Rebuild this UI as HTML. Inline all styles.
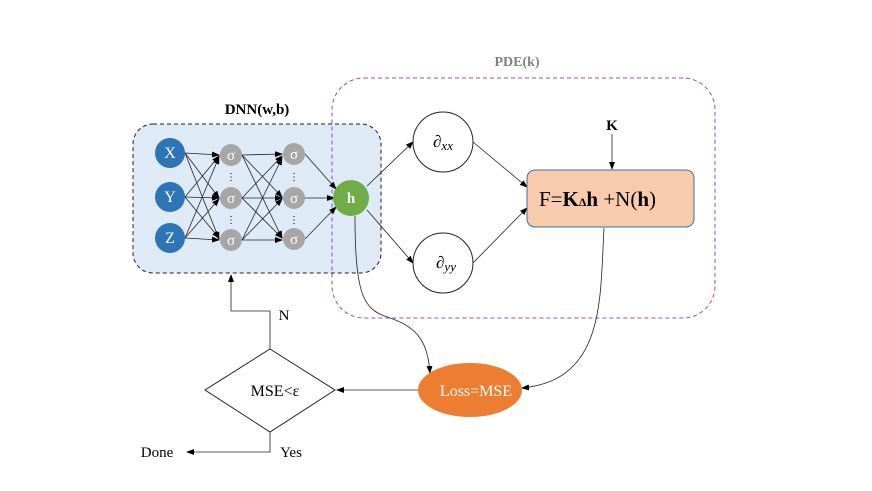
<!DOCTYPE html>
<html><head><style>body{margin:0;background:#fff}svg{display:block}</style></head><body>
<svg width="872" height="491" viewBox="0 0 872 491" xmlns="http://www.w3.org/2000/svg" font-family="Liberation Serif, serif">
<defs><marker id="a" markerWidth="8" markerHeight="8" refX="7" refY="4" orient="auto" markerUnits="userSpaceOnUse"><path d="M0,1 L8,4 L0,7z" fill="#000"/></marker></defs>
<rect x="133" y="124" width="248" height="149" rx="20" fill="#deebf7" stroke="#222" stroke-dasharray="4,3"/>
<rect x="332" y="78" width="383" height="240" rx="32" fill="none" stroke="#8a4fc8" stroke-dasharray="4,3"/>
<text x="257" y="114" font-size="15" font-weight="bold" text-anchor="middle">DNN(w,b)</text>
<text x="517" y="66" font-size="14" font-weight="bold" fill="#808080" text-anchor="middle">PDE(k)</text>
<g stroke="#222" stroke-width="0.8" marker-end="url(#a)">
<line x1="185" y1="153" x2="219" y2="155"/><line x1="185" y1="153" x2="219" y2="198"/><line x1="185" y1="153" x2="219" y2="239"/>
<line x1="185" y1="197" x2="219" y2="156"/><line x1="185" y1="197" x2="219" y2="198"/><line x1="185" y1="197" x2="219" y2="238"/>
<line x1="185" y1="238" x2="219" y2="157"/><line x1="185" y1="238" x2="219" y2="199"/><line x1="185" y1="238" x2="219" y2="240"/>
<line x1="242" y1="155" x2="282" y2="154"/><line x1="242" y1="155" x2="282" y2="197"/><line x1="242" y1="155" x2="282" y2="238"/>
<line x1="242" y1="198" x2="282" y2="156"/><line x1="242" y1="198" x2="282" y2="198"/><line x1="242" y1="198" x2="282" y2="238"/>
<line x1="242" y1="240" x2="282" y2="158"/><line x1="242" y1="240" x2="282" y2="199"/><line x1="242" y1="240" x2="282" y2="240"/>
<line x1="305" y1="154" x2="336" y2="189"/><line x1="305" y1="198" x2="334" y2="198"/><line x1="305" y1="239" x2="336" y2="207"/>
<line x1="367" y1="186" x2="413" y2="142"/><line x1="367" y1="210" x2="413" y2="263"/>
<line x1="473" y1="142" x2="527" y2="187"/><line x1="473" y1="263" x2="527" y2="208"/>
<line x1="612" y1="134" x2="612" y2="169"/>
<line x1="418" y1="390" x2="337" y2="390"/>
<polyline fill="none" points="270,349 270,311 231,311 231,275"/>
<polyline fill="none" points="270,432 270,452 187,452"/>
<path fill="none" d="M355,216 C355,300 365,310 390,318 C420,328 428,345 430,373"/>
<path fill="none" d="M604,228 C600,300 605,380 522,388"/>
</g>
<g fill="#2e75b6"><circle cx="170" cy="153" r="15"/><circle cx="170" cy="197" r="15"/><circle cx="170" cy="238" r="15"/></g>
<g fill="#fff" font-size="16" text-anchor="middle"><text x="170" y="158">X</text><text x="170" y="202">Y</text><text x="170" y="243">Z</text></g>
<g fill="#a6a6a6"><circle cx="231" cy="155" r="11"/><circle cx="231" cy="198" r="11"/><circle cx="231" cy="240" r="11"/><circle cx="294" cy="154" r="11"/><circle cx="294" cy="198" r="11"/><circle cx="294" cy="239" r="11"/></g>
<g fill="#fff" font-size="15" text-anchor="middle"><text x="231" y="160">σ</text><text x="231" y="203">σ</text><text x="231" y="245">σ</text><text x="294" y="159">σ</text><text x="294" y="203">σ</text><text x="294" y="244">σ</text></g>
<g font-size="10" text-anchor="middle"><text x="231" y="180">⋮</text><text x="231" y="223">⋮</text><text x="294" y="180">⋮</text><text x="294" y="223">⋮</text></g>
<circle cx="351" cy="198" r="18" fill="#70ad47"/>
<text x="351" y="203" fill="#fff" font-size="15" font-weight="bold" text-anchor="middle">h</text>
<circle cx="443" cy="142" r="30" fill="#fff" stroke="#222"/>
<circle cx="443" cy="263" r="30" fill="#fff" stroke="#222"/>
<text x="443" y="147" font-size="17" font-style="italic" text-anchor="middle">∂<tspan font-size="13" dy="3">xx</tspan></text>
<text x="446" y="268" font-size="17" font-style="italic" text-anchor="middle">∂<tspan font-size="13" dy="3">yy</tspan></text>
<rect x="527" y="170" width="167" height="57" rx="8" fill="#f8cbad" stroke="#41719c"/>
<text x="539" y="206" font-size="21">F=<tspan font-weight="bold">K</tspan><tspan font-size="12" font-weight="bold">Δ</tspan><tspan font-weight="bold">h</tspan> +N(<tspan font-weight="bold">h</tspan>)</text>
<text x="612" y="130" font-size="15" font-weight="bold" text-anchor="middle">K</text>
<ellipse cx="470" cy="390" rx="52" ry="27" fill="#ed7d31"/>
<text x="476" y="396" fill="#fff" font-size="16" text-anchor="middle">Loss=MSE</text>
<polygon points="270,349 335,390 270,432 205,390" fill="#fff" stroke="#222"/>
<text x="275" y="396" font-size="16" text-anchor="middle">MSE&lt;ε</text>
<text x="284" y="320" font-size="15" text-anchor="middle">N</text>
<text x="291" y="457" font-size="15" text-anchor="middle">Yes</text>
<text x="157" y="457" font-size="15" text-anchor="middle">Done</text>
</svg>
</body></html>
